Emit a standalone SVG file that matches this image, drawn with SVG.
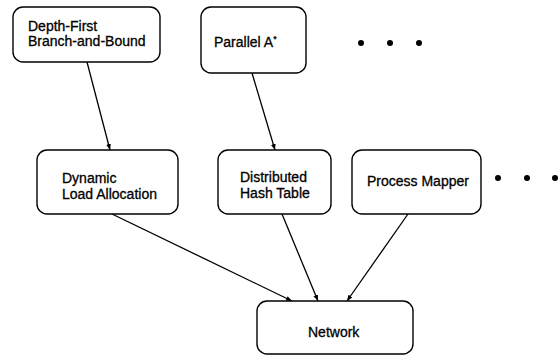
<svg xmlns="http://www.w3.org/2000/svg" width="560" height="356" viewBox="0 0 560 356">
<style>
.box{fill:#fff;stroke:#000;stroke-width:1.4}
.t{font-family:"Liberation Sans",Arial,sans-serif;font-size:14px;fill:#000;stroke:#000;stroke-width:0.3}
.c{stroke:#000;stroke-width:1.3;fill:none;marker-end:url(#ah)}
</style>
<defs>
<marker id="ah" viewBox="0 0 10 10" refX="10" refY="5" markerWidth="6" markerHeight="6" orient="auto" markerUnits="userSpaceOnUse">
<path d="M0,1 L10,5 L0,9 z" fill="#000"/>
</marker>
</defs>
<rect width="560" height="356" fill="#fff"/>
<g id="connectors">
<line class="c" x1="87" y1="62" x2="110" y2="150"/>
<line class="c" x1="252" y1="73" x2="275" y2="150"/>
<line class="c" x1="112" y1="214" x2="292" y2="301"/>
<line class="c" x1="282" y1="214" x2="318" y2="301"/>
<line class="c" x1="408" y1="214" x2="347" y2="301"/>
</g>
<g id="n-dfbb">
<rect class="box" x="13" y="7" width="147" height="55" rx="10"/>
<text class="t" x="28" y="31">Depth-First</text>
<text class="t" x="28" y="46">Branch-and-Bound</text>
</g>
<g id="n-pastar">
<rect class="box" x="201" y="7" width="105" height="66" rx="10"/>
<text class="t" x="214" y="47">Parallel A<tspan font-size="9" dy="-5">*</tspan></text>
</g>
<g id="dots-top">
<circle cx="361" cy="43" r="3"/>
<circle cx="390" cy="43" r="3"/>
<circle cx="419" cy="43" r="3"/>
</g>
<g id="n-dla">
<rect class="box" x="37" y="150" width="141" height="64" rx="10"/>
<text class="t" x="62" y="183">Dynamic</text>
<text class="t" x="62" y="199">Load Allocation</text>
</g>
<g id="n-dht">
<rect class="box" x="218" y="150" width="113" height="64" rx="10"/>
<text class="t" x="240" y="182">Distributed</text>
<text class="t" x="240" y="198">Hash Table</text>
</g>
<g id="n-pm">
<rect class="box" x="352" y="150" width="129" height="64" rx="10"/>
<text class="t" x="367" y="186">Process Mapper</text>
</g>
<g id="dots-mid">
<circle cx="498" cy="178" r="3"/>
<circle cx="527" cy="178" r="3"/>
<circle cx="555" cy="178" r="3"/>
</g>
<g id="n-net">
<rect class="box" x="257" y="301" width="156" height="53" rx="10"/>
<text class="t" x="308" y="337">Network</text>
</g>
</svg>
